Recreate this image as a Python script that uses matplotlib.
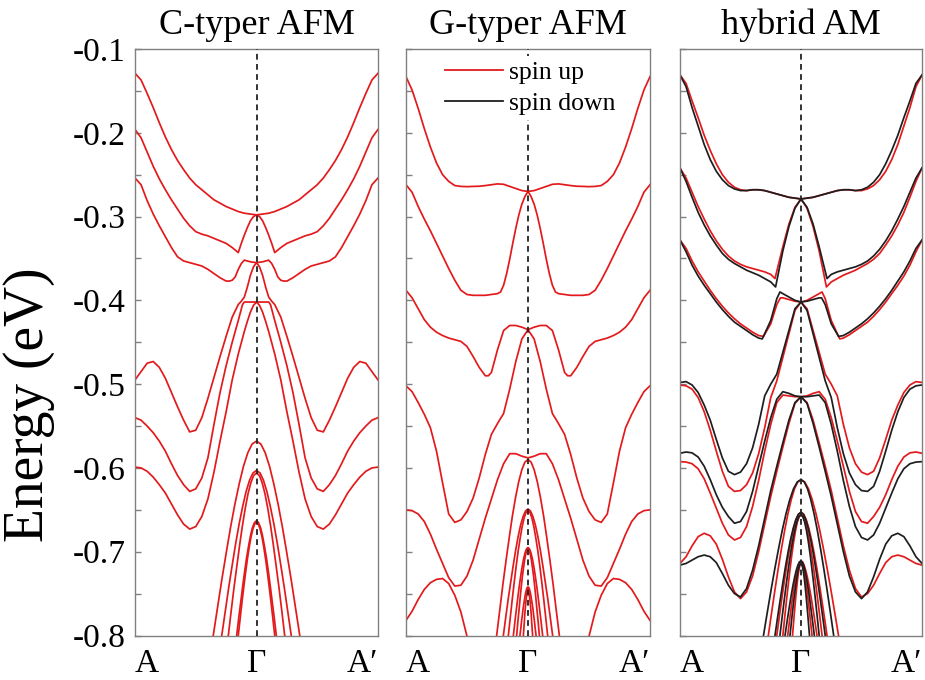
import numpy as np
import matplotlib
matplotlib.use('Agg')
import matplotlib.pyplot as plt
from matplotlib.lines import Line2D

plt.rcParams['font.family'] = ['Liberation Serif', 'DejaVu Serif']
plt.rcParams['axes.unicode_minus'] = False

RED = '#e31a1c'
BLK = '#1e1e1e'
SPINE = '#808080'

panel_titles = ['C-typer AFM', 'G-typer AFM', 'hybrid AM']
k_ticks = [-1.0, 0.0, 1.0]
k_labels = ['A', 'Γ', 'A′']
e_major = [-0.8, -0.7, -0.6, -0.5, -0.4, -0.3, -0.2, -0.1]
e_minor = [-0.75, -0.65, -0.55, -0.45, -0.35, -0.25, -0.15]
legend_labels = ['spin up', 'spin down']

# k measured from Gamma (0) to zone edge A (1)
U21 = [0.0, 0.05, 0.1, 0.15, 0.2, 0.25, 0.3, 0.35, 0.4, 0.45, 0.5,
       0.55, 0.6, 0.65, 0.7, 0.75, 0.8, 0.85, 0.9, 0.95, 1.0]

# ---------------- C-type AFM (symmetric) ----------------
C_a_u = U21
C_a_E = [-0.298, -0.297, -0.296, -0.294, -0.291, -0.288, -0.284, -0.280, -0.274, -0.268, -0.262,
         -0.254, -0.244, -0.233, -0.220, -0.205, -0.188, -0.170, -0.153, -0.137, -0.129]
C_b_u = [0, .025, .05, .075, .1, .125, .15, .2, .25, .3, .35, .4, .45, .5, .55, .6, .65, .7, .75, .8, .85, .9, .95, 1]
C_b_E = [-0.298, -0.300, -0.305, -0.313, -0.322, -0.332, -0.343, -0.337, -0.332, -0.329, -0.326, -0.323,
         -0.321, -0.318, -0.311, -0.302, -0.291, -0.280, -0.268, -0.255, -0.240, -0.223, -0.206, -0.196]
C_c_u = [0, .05, .1, .125, .15, .175, .2, .225, .25, .3, .35, .4, .45, .5, .55, .6, .65, .7, .75, .8, .85, .9, .95, 1]
C_c_E = [-0.355, -0.354, -0.352, -0.356, -0.363, -0.372, -0.376, -0.377, -0.377, -0.373, -0.368, -0.363,
         -0.359, -0.357, -0.355, -0.353, -0.348, -0.337, -0.324, -0.311, -0.297, -0.281, -0.262, -0.254]
C_d_u = [0, .025, .05, .075, .1, .125, .15, .2, .25, .3, .35, .4, .45, .5, .55, .6, .65, .7, .75, .8, .85, .9, .95, 1]
C_d_E = [-0.355, -0.360, -0.370, -0.384, -0.396, -0.401, -0.405, -0.420, -0.443, -0.467, -0.492, -0.517,
         -0.540, -0.555, -0.557, -0.543, -0.527, -0.510, -0.493, -0.480, -0.473, -0.475, -0.485, -0.495]
C_e_u = [0, .05, .1, .115, .15, .2, .25, .3, .35, .4, .45, .5, .55, .6, .65, .7, .75, .8, .85, .9, .95, 1]
C_e_E = [-0.402, -0.402, -0.402, -0.405, -0.424, -0.450, -0.478, -0.510, -0.548, -0.588, -0.612,
         -0.625, -0.628, -0.620, -0.609, -0.595, -0.580, -0.568, -0.558, -0.550, -0.543, -0.540]
C_f_u = [0, .025, .05, .075, .1, .15, .2, .25, .3, .35, .4, .45, .5, .55, .6, .65, .7, .75, .8, .85, .9, .95, 1]
C_f_E = [-0.402, -0.406, -0.414, -0.425, -0.437, -0.464, -0.495, -0.533, -0.568, -0.605, -0.637, -0.658,
         -0.670, -0.673, -0.667, -0.656, -0.643, -0.630, -0.620, -0.611, -0.604, -0.600, -0.599]
C_p1_u = [0, .036, .071, .107, .142, .178, .214, .249, .285, .320, .356, .427]
C_p1_E = [-0.568, -0.5715, -0.5817, -0.5979, -0.6188, -0.6434, -0.6712, -0.7012, -0.7330, -0.7659, -0.800, -0.8705]
C_p2_u = [0, .029, .057, .086, .114, .143, .172, .200, .229, .257, .286, .343]
C_p2_E = [-0.603, -0.606, -0.6146, -0.6284, -0.6461, -0.667, -0.6907, -0.7161, -0.7431, -0.7711, -0.800, -0.8599]
C_p3_u = [0, .023, .046, .070, .093, .116, .139, .162, .186, .209, .232, .278]
C_p3_E = [-0.606, -0.6089, -0.6174, -0.631, -0.6485, -0.6691, -0.6923, -0.7174, -0.7439, -0.7715, -0.800, -0.859]
C_p4_u = [0, .016, .033, .049, .065, .082, .098, .114, .130, .147, .163, .196]
C_p4_E = [-0.663, -0.6651, -0.6711, -0.6806, -0.693, -0.7076, -0.724, -0.7416, -0.7604, -0.7799, -0.800, -0.8416]
C_p5_u = [0, .015, .030, .045, .060, .075, .090, .105, .120, .135, .150, .180]
C_p5_E = [-0.665, -0.667, -0.673, -0.6823, -0.6946, -0.7089, -0.7251, -0.7425, -0.7609, -0.7802, -0.800, -0.841]

# ---------------- G-type AFM (symmetric) ----------------
G_a_u = U21
G_a_E = [-0.270, -0.269, -0.2665, -0.264, -0.2615, -0.261, -0.262, -0.263, -0.2638, -0.264, -0.2643,
         -0.264, -0.263, -0.258, -0.250, -0.236, -0.217, -0.195, -0.171, -0.149, -0.133]
G_b_u = [0, .025, .05, .075, .1, .125, .15, .175, .2, .225, .25, .3, .35, .4, .45, .5, .55, .6, .65, .7,
         .75, .8, .85, .9, .95, 1]
G_b_E = [-0.270, -0.276, -0.285, -0.298, -0.314, -0.332, -0.351, -0.368, -0.382, -0.390, -0.392, -0.393,
         -0.394, -0.394, -0.394, -0.393, -0.388, -0.376, -0.362, -0.347, -0.332, -0.317, -0.303, -0.288,
         -0.271, -0.262]
G_c_u = [0, .05, .1, .15, .2, .25, .3, .325, .35, .4, .45, .5, .55, .6, .65, .7, .75, .8, .85, .9, .95, 1]
G_c_E = [-0.435, -0.432, -0.430, -0.430, -0.436, -0.459, -0.486, -0.490, -0.490, -0.480, -0.467, -0.455,
         -0.449, -0.447, -0.445, -0.442, -0.438, -0.432, -0.423, -0.410, -0.397, -0.388]
G_d_u = U21
G_d_E = [-0.435, -0.446, -0.473, -0.506, -0.535, -0.547, -0.560, -0.584, -0.612, -0.636, -0.652,
         -0.662, -0.665, -0.655, -0.618, -0.580, -0.552, -0.536, -0.522, -0.509, -0.502]
G_e_u = U21
G_e_E = [-0.588, -0.586, -0.583, -0.583, -0.595, -0.614, -0.637, -0.660, -0.685, -0.710, -0.729,
         -0.740, -0.741, -0.731, -0.714, -0.697, -0.679, -0.664, -0.655, -0.651, -0.650]
G_f_u = [0.45, 0.5, 0.55, 0.6, 0.65, 0.7, 0.75, 0.8, 0.85, 0.9, 0.95, 1.0]
G_f_E = [-0.835, -0.801, -0.772, -0.752, -0.738, -0.732, -0.733, -0.737, -0.745, -0.757, -0.771, -0.782]
G_g_u = [0, .026, .051, .077, .103, .129, .154, .180, .206, .231, .257, .308]
G_g_E = [-0.590, -0.5932, -0.6024, -0.617, -0.636, -0.6583, -0.6834, -0.7105, -0.7392, -0.7692, -0.800, -0.8638]
G_h1_u = [0, .020, .040, .061, .081, .101, .121, .141, .162, .182, .202, .242]
G_h1_E = [-0.649, -0.6513, -0.6579, -0.6684, -0.6821, -0.6981, -0.7162, -0.7357, -0.7563, -0.7778, -0.800, -0.8459]
G_h2_u = [0, .016, .032, .048, .064, .081, .097, .113, .129, .145, .161, .193]
G_h2_E = [-0.651, -0.6532, -0.6598, -0.6702, -0.6836, -0.6995, -0.7173, -0.7365, -0.7569, -0.7781, -0.800, -0.8453]
G_i1_u = [0, .012, .024, .036, .048, .060, .072, .084, .096, .108, .120, .144]
G_i1_E = [-0.695, -0.6966, -0.7012, -0.7085, -0.718, -0.7291, -0.7417, -0.7553, -0.7697, -0.7846, -0.800, -0.8319]
G_i2_u = [0, .009, .019, .028, .037, .047, .056, .065, .074, .084, .093, .112]
G_i2_E = [-0.697, -0.6985, -0.7031, -0.7103, -0.7196, -0.7305, -0.7428, -0.7561, -0.7702, -0.7849, -0.800, -0.8313]
G_j1_u = [0, .007, .013, .020, .026, .033, .040, .046, .053, .059, .066, .079]
G_j1_E = [-0.742, -0.7429, -0.7454, -0.7495, -0.7547, -0.7609, -0.7678, -0.7753, -0.7832, -0.7915, -0.800, -0.8176]
G_j2_u = [0, .004, .008, .011, .015, .019, .023, .027, .030, .034, .038, .046]
G_j2_E = [-0.744, -0.7448, -0.7473, -0.7512, -0.7563, -0.7622, -0.7689, -0.7761, -0.7838, -0.7918, -0.800, -0.817]

# ---------------- hybrid AM: spin-up (red) on the A side (L) and A' side (R) ----------------
H_a_uL = U21
H_a_EL = [-0.279, -0.278, -0.277, -0.275, -0.273, -0.271, -0.269, -0.268, -0.268, -0.269, -0.268,
          -0.265, -0.259, -0.250, -0.237, -0.221, -0.203, -0.182, -0.162, -0.141, -0.131]
H_a_uR = U21
H_a_ER = [-0.279, -0.278, -0.277, -0.275, -0.273, -0.271, -0.269, -0.268, -0.268, -0.269, -0.269,
          -0.267, -0.263, -0.256, -0.246, -0.232, -0.214, -0.192, -0.170, -0.145, -0.131]
H_b_uL = [0, .05, .1, .15, .215, .25, .3, .35, .4, .45, .5, .55, .6, .65, .7, .75, .8, .85, .9, .95, 1]
H_b_EL = [-0.279, -0.289, -0.309, -0.336, -0.374, -0.369, -0.366, -0.364, -0.362, -0.360, -0.357,
          -0.353, -0.347, -0.339, -0.329, -0.317, -0.303, -0.288, -0.271, -0.254, -0.242]
H_b_uR = [0, .05, .1, .15, .21, .25, .3, .35, .4, .45, .5, .55, .6, .65, .7, .75, .8, .85, .9, .95, 1]
H_b_ER = [-0.279, -0.290, -0.312, -0.341, -0.384, -0.378, -0.374, -0.370, -0.367, -0.364, -0.360,
          -0.356, -0.351, -0.344, -0.334, -0.323, -0.310, -0.295, -0.277, -0.258, -0.242]
H_c_uL = [0, .05, .1, .15, .17, .2, .25, .31, .35, .4, .45, .5, .55, .6, .65, .7, .75, .8, .85, .9, .95, 1]
H_c_EL = [-0.402, -0.401, -0.399, -0.397, -0.397, -0.405, -0.428, -0.443, -0.442, -0.438, -0.433,
          -0.428, -0.422, -0.415, -0.407, -0.398, -0.388, -0.377, -0.366, -0.353, -0.338, -0.328]
H_c_uR = [0, .05, .1, .15, .174, .2, .25, .32, .35, .4, .45, .5, .55, .6, .65, .7, .75, .8, .85, .9, .95, 1]
H_c_ER = [-0.402, -0.400, -0.396, -0.392, -0.390, -0.398, -0.424, -0.446, -0.445, -0.441, -0.436,
          -0.431, -0.426, -0.419, -0.411, -0.402, -0.392, -0.382, -0.371, -0.358, -0.342, -0.328]
H_d_uL = U21
H_d_EL = [-0.402, -0.412, -0.440, -0.468, -0.496, -0.516, -0.552, -0.583, -0.606, -0.620, -0.627,
          -0.628, -0.622, -0.604, -0.580, -0.555, -0.533, -0.516, -0.506, -0.502, -0.501]
H_d_uR = U21
H_d_ER = [-0.402, -0.410, -0.436, -0.462, -0.488, -0.500, -0.514, -0.548, -0.576, -0.595, -0.605,
          -0.608, -0.604, -0.588, -0.566, -0.543, -0.525, -0.510, -0.501, -0.497, -0.498]
H_e_uL = U21
H_e_EL = [-0.515, -0.515, -0.514, -0.513, -0.522, -0.548, -0.580, -0.615, -0.646, -0.670, -0.683,
          -0.686, -0.680, -0.666, -0.648, -0.630, -0.613, -0.601, -0.595, -0.593, -0.5925]
H_e_uR = U21
H_e_ER = [-0.515, -0.514, -0.511, -0.509, -0.518, -0.540, -0.568, -0.598, -0.628, -0.652, -0.664,
          -0.666, -0.658, -0.647, -0.632, -0.614, -0.598, -0.587, -0.582, -0.581, -0.5825]
H_f_uL = U21
H_f_EL = [-0.515, -0.523, -0.547, -0.575, -0.604, -0.634, -0.667, -0.700, -0.729, -0.748, -0.756,
          -0.748, -0.730, -0.709, -0.691, -0.681, -0.678, -0.682, -0.693, -0.706, -0.714]
H_f_uR = U21
H_f_ER = [-0.515, -0.522, -0.543, -0.570, -0.598, -0.627, -0.660, -0.693, -0.722, -0.744, -0.754,
          -0.750, -0.740, -0.726, -0.713, -0.706, -0.704, -0.706, -0.710, -0.714, -0.716]
H_q1_E = [-0.614, -0.6168, -0.625, -0.638, -0.6547, -0.6745, -0.6968, -0.7208, -0.7462, -0.7727, -0.800, -0.8565]
H_q1_uL = [0, .027, .054, .081, .108, .135, .162, .189, .216, .243, .27, .324]
H_q1_uR = [0, .031, .062, .093, .124, .155, .186, .217, .248, .279, .31, .372]
H_q2_E = [-0.653, -0.6552, -0.6617, -0.672, -0.6852, -0.7008, -0.7184, -0.7374, -0.7575, -0.7784, -0.800, -0.8447]
H_q2_uL = [0, .02, .04, .06, .08, .10, .12, .14, .16, .18, .20, .24]
H_q2_uR = [0, .0215, .043, .0645, .086, .1075, .129, .1505, .172, .1935, .215, .258]
H_q3_E = [-0.656, -0.6582, -0.6645, -0.6746, -0.6875, -0.7028, -0.7201, -0.7387, -0.7584, -0.7788, -0.800, -0.8438]
H_q3_uL = [0, .015, .03, .045, .06, .075, .09, .105, .12, .135, .15, .18]
H_q3_uR = [0, .0174, .0348, .0522, .0696, .087, .1044, .1218, .1392, .1566, .174, .2088]
H_q4_E = [-0.711, -0.7123, -0.7163, -0.7225, -0.7305, -0.7399, -0.7506, -0.7621, -0.7743, -0.7869, -0.800, -0.8271]
H_q4_uL = [0, .011, .022, .033, .044, .055, .066, .077, .088, .099, .11, .132]
H_q4_uR = [0, .0132, .0264, .0396, .0528, .066, .0792, .0924, .1056, .1188, .132, .1584]
H_q5_E = [-0.714, -0.7153, -0.7191, -0.7251, -0.7328, -0.742, -0.7523, -0.7634, -0.7751, -0.7874, -0.800, -0.8261]
H_q5_uL = [0, .007, .014, .021, .028, .035, .042, .049, .056, .063, .07, .084]
H_q5_uR = [0, .0091, .0182, .0273, .0364, .0455, .0546, .0637, .0728, .0819, .091, .1092]


def path(uL, EL, uR, ER):
    uL = np.asarray(uL, float); uR = np.asarray(uR, float)
    EL = np.asarray(EL, float); ER = np.asarray(ER, float)
    k = np.concatenate([-uL[::-1], uR])
    e = np.concatenate([EL[::-1], ER])
    return k, e


sym_C = [(C_a_u, C_a_E), (C_b_u, C_b_E), (C_c_u, C_c_E), (C_d_u, C_d_E), (C_e_u, C_e_E),
         (C_f_u, C_f_E), (C_p1_u, C_p1_E), (C_p2_u, C_p2_E), (C_p3_u, C_p3_E),
         (C_p4_u, C_p4_E), (C_p5_u, C_p5_E)]
sym_G = [(G_a_u, G_a_E), (G_b_u, G_b_E), (G_c_u, G_c_E), (G_d_u, G_d_E), (G_e_u, G_e_E),
         (G_g_u, G_g_E), (G_h1_u, G_h1_E), (G_h2_u, G_h2_E), (G_i1_u, G_i1_E),
         (G_i2_u, G_i2_E), (G_j1_u, G_j1_E), (G_j2_u, G_j2_E)]
hyb = [(H_a_uL, H_a_EL, H_a_uR, H_a_ER), (H_b_uL, H_b_EL, H_b_uR, H_b_ER),
       (H_c_uL, H_c_EL, H_c_uR, H_c_ER), (H_d_uL, H_d_EL, H_d_uR, H_d_ER),
       (H_e_uL, H_e_EL, H_e_uR, H_e_ER), (H_f_uL, H_f_EL, H_f_uR, H_f_ER),
       (H_q1_uL, H_q1_E, H_q1_uR, H_q1_E), (H_q2_uL, H_q2_E, H_q2_uR, H_q2_E),
       (H_q3_uL, H_q3_E, H_q3_uR, H_q3_E), (H_q4_uL, H_q4_E, H_q4_uR, H_q4_E),
       (H_q5_uL, H_q5_E, H_q5_uR, H_q5_E)]

fig = plt.figure(figsize=(9.25, 6.8), dpi=100)
W, H = 925.0, 680.0
top_px, bot_px = 49.0, 635.5
rects = [(135, 378), (406, 650), (680, 922)]
axes = []
for (x0, x1) in rects:
    ax = fig.add_axes([x0 / W, (H - bot_px) / H, (x1 - x0) / W, (bot_px - top_px) / H])
    axes.append(ax)

LW = 1.25
for u, E in sym_C:
    axes[0].plot(*path(u, E, u, E), color=RED, lw=LW, solid_joinstyle='round')
for u, E in sym_G:
    axes[1].plot(*path(u, E, u, E), color=RED, lw=LW, solid_joinstyle='round')
axes[1].plot(-np.asarray(G_f_u), G_f_E, color=RED, lw=LW)
axes[1].plot(np.asarray(G_f_u), G_f_E, color=RED, lw=LW)
for uL, EL, uR, ER in hyb:
    axes[2].plot(*path(uL, EL, uR, ER), color=RED, lw=LW, solid_joinstyle='round')
for uL, EL, uR, ER in hyb:
    axes[2].plot(*path(uR, ER, uL, EL), color=BLK, lw=LW, solid_joinstyle='round')

for i, ax in enumerate(axes):
    ax.set_xlim(-1, 1)
    ax.set_ylim(-0.8, -0.1)
    ax.axvline(0, color='#222222', lw=1.3, ls=(0, (3.2, 2.4)), zorder=5)
    ax.set_yticks(e_major)
    ax.set_yticks(e_minor, minor=True)
    ax.tick_params(axis='y', which='both', direction='in', length=4, width=1,
                   color=SPINE, labelsize=24, pad=7, labelleft=(i == 0))
    ax.set_xticks(k_ticks)
    ax.set_xticklabels(k_labels)
    ax.tick_params(axis='x', length=0, labelsize=24, pad=9)
    lbls = ax.get_xticklabels()
    lbls[0].set_horizontalalignment('left')
    lbls[2].set_horizontalalignment('right')
    for s in ax.spines.values():
        s.set_color(SPINE)
        s.set_linewidth(1.0)
    ax.set_title(panel_titles[i], fontsize=26, pad=11)

handles = [Line2D([], [], color=RED, lw=1.3), Line2D([], [], color=BLK, lw=1.3)]
leg = axes[1].legend(handles, legend_labels, loc='upper left', bbox_to_anchor=(0.14, 0.988),
                     frameon=True, facecolor='white', edgecolor='none', framealpha=1.0,
                     fontsize=18.5, handlelength=2.26, handletextpad=0.2, borderpad=0.2,
                     labelspacing=0.31, borderaxespad=0.0)
leg.set_zorder(10)

fig.text(29 / W, 1 - 405 / H, 'Energy (eV)', rotation=90, ha='center', va='center', fontsize=40)

fig.savefig('out.png', dpi=100)
